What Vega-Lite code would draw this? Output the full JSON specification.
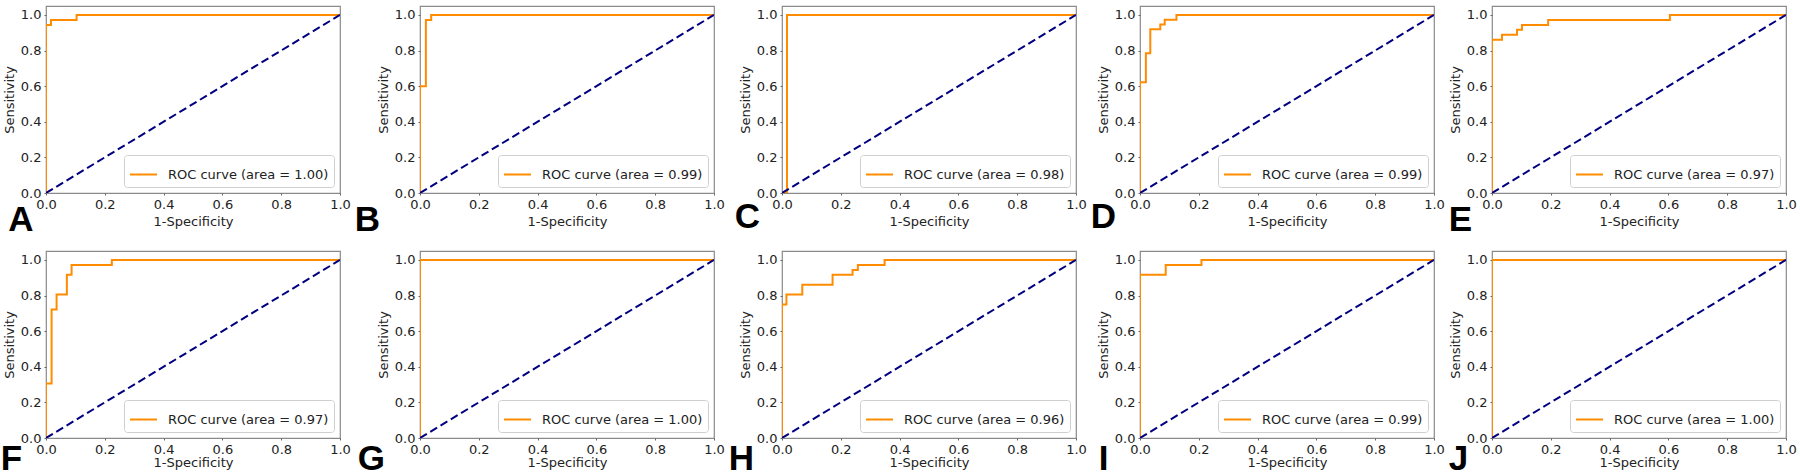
{
  "$schema": "https://vega.github.io/schema/vega-lite/v6.json",
  "background": "white",
  "padding": {"left": 0, "top": 5, "right": 0, "bottom": 0},
  "datasets": {
    "diag": [{"x": 0, "y": 0}, {"x": 1, "y": 1}],
    "roc": [
      {"p": "A", "i": 0, "x": 0, "y": 0}, {"p": "A", "i": 1, "x": 0, "y": 0.944}, {"p": "A", "i": 2, "x": 0.017, "y": 0.944}, {"p": "A", "i": 3, "x": 0.017, "y": 0.972}, {"p": "A", "i": 4, "x": 0.104, "y": 0.972}, {"p": "A", "i": 5, "x": 0.104, "y": 1}, {"p": "A", "i": 6, "x": 1, "y": 1},
      {"p": "B", "i": 0, "x": 0, "y": 0}, {"p": "B", "i": 1, "x": 0, "y": 0.6}, {"p": "B", "i": 2, "x": 0.02, "y": 0.6}, {"p": "B", "i": 3, "x": 0.02, "y": 0.972}, {"p": "B", "i": 4, "x": 0.038, "y": 0.972}, {"p": "B", "i": 5, "x": 0.038, "y": 1}, {"p": "B", "i": 6, "x": 1, "y": 1},
      {"p": "C", "i": 0, "x": 0, "y": 0}, {"p": "C", "i": 1, "x": 0.017, "y": 0}, {"p": "C", "i": 2, "x": 0.017, "y": 1}, {"p": "C", "i": 3, "x": 1, "y": 1},
      {"p": "D", "i": 0, "x": 0, "y": 0}, {"p": "D", "i": 1, "x": 0, "y": 0.622}, {"p": "D", "i": 2, "x": 0.02, "y": 0.622}, {"p": "D", "i": 3, "x": 0.02, "y": 0.784}, {"p": "D", "i": 4, "x": 0.035, "y": 0.784}, {"p": "D", "i": 5, "x": 0.035, "y": 0.919}, {"p": "D", "i": 6, "x": 0.069, "y": 0.919}, {"p": "D", "i": 7, "x": 0.069, "y": 0.946}, {"p": "D", "i": 8, "x": 0.084, "y": 0.946}, {"p": "D", "i": 9, "x": 0.084, "y": 0.973}, {"p": "D", "i": 10, "x": 0.124, "y": 0.973}, {"p": "D", "i": 11, "x": 0.124, "y": 1}, {"p": "D", "i": 12, "x": 1, "y": 1},
      {"p": "E", "i": 0, "x": 0, "y": 0}, {"p": "E", "i": 1, "x": 0, "y": 0.861}, {"p": "E", "i": 2, "x": 0.034, "y": 0.861}, {"p": "E", "i": 3, "x": 0.034, "y": 0.889}, {"p": "E", "i": 4, "x": 0.085, "y": 0.889}, {"p": "E", "i": 5, "x": 0.085, "y": 0.917}, {"p": "E", "i": 6, "x": 0.102, "y": 0.917}, {"p": "E", "i": 7, "x": 0.102, "y": 0.944}, {"p": "E", "i": 8, "x": 0.191, "y": 0.944}, {"p": "E", "i": 9, "x": 0.191, "y": 0.972}, {"p": "E", "i": 10, "x": 0.605, "y": 0.972}, {"p": "E", "i": 11, "x": 0.605, "y": 1}, {"p": "E", "i": 12, "x": 1, "y": 1},
      {"p": "F", "i": 0, "x": 0, "y": 0}, {"p": "F", "i": 1, "x": 0, "y": 0.306}, {"p": "F", "i": 2, "x": 0.019, "y": 0.306}, {"p": "F", "i": 3, "x": 0.019, "y": 0.722}, {"p": "F", "i": 4, "x": 0.036, "y": 0.722}, {"p": "F", "i": 5, "x": 0.036, "y": 0.806}, {"p": "F", "i": 6, "x": 0.071, "y": 0.806}, {"p": "F", "i": 7, "x": 0.071, "y": 0.917}, {"p": "F", "i": 8, "x": 0.087, "y": 0.917}, {"p": "F", "i": 9, "x": 0.087, "y": 0.972}, {"p": "F", "i": 10, "x": 0.224, "y": 0.972}, {"p": "F", "i": 11, "x": 0.224, "y": 1}, {"p": "F", "i": 12, "x": 1, "y": 1},
      {"p": "G", "i": 0, "x": 0, "y": 0}, {"p": "G", "i": 1, "x": 0, "y": 1}, {"p": "G", "i": 2, "x": 1, "y": 1},
      {"p": "H", "i": 0, "x": 0, "y": 0}, {"p": "H", "i": 1, "x": 0, "y": 0.75}, {"p": "H", "i": 2, "x": 0.015, "y": 0.75}, {"p": "H", "i": 3, "x": 0.015, "y": 0.806}, {"p": "H", "i": 4, "x": 0.069, "y": 0.806}, {"p": "H", "i": 5, "x": 0.069, "y": 0.861}, {"p": "H", "i": 6, "x": 0.172, "y": 0.861}, {"p": "H", "i": 7, "x": 0.172, "y": 0.917}, {"p": "H", "i": 8, "x": 0.24, "y": 0.917}, {"p": "H", "i": 9, "x": 0.24, "y": 0.944}, {"p": "H", "i": 10, "x": 0.258, "y": 0.944}, {"p": "H", "i": 11, "x": 0.258, "y": 0.972}, {"p": "H", "i": 12, "x": 0.349, "y": 0.972}, {"p": "H", "i": 13, "x": 0.349, "y": 1}, {"p": "H", "i": 14, "x": 1, "y": 1},
      {"p": "I", "i": 0, "x": 0, "y": 0}, {"p": "I", "i": 1, "x": 0, "y": 0.917}, {"p": "I", "i": 2, "x": 0.0875, "y": 0.917}, {"p": "I", "i": 3, "x": 0.0875, "y": 0.972}, {"p": "I", "i": 4, "x": 0.209, "y": 0.972}, {"p": "I", "i": 5, "x": 0.209, "y": 1}, {"p": "I", "i": 6, "x": 1, "y": 1},
      {"p": "J", "i": 0, "x": 0, "y": 0}, {"p": "J", "i": 1, "x": 0, "y": 1}, {"p": "J", "i": 2, "x": 1, "y": 1}
    ]
  },
  "columns": 5,
  "align": "each",
  "bounds": "full",
  "spacing": {"row": 11, "column": 3},
  "resolve": {"scale": {"color": "independent"}, "legend": {"color": "independent"}},
  "concat": [
    {"title": {"text": "A", "offset": -24.65, "dx": 5}, "width": 294, "height": 187, "encoding": {"x": {"field": "x", "type": "quantitative", "title": "1-Specificity", "scale": {"domain": [0, 1], "nice": false}, "axis": {"values": [0, 0.2, 0.4, 0.6, 0.8, 1], "format": ".1f"}}, "y": {"field": "y", "type": "quantitative", "title": "Sensitivity", "scale": {"domain": [0, 1.05], "nice": false}, "axis": {"values": [0, 0.2, 0.4, 0.6, 0.8, 1], "format": ".1f"}}},
     "layer": [
      {"data": {"name": "roc"}, "transform": [{"filter": "datum.p === 'A'"}], "mark": {"type": "line", "strokeWidth": 2, "clip": true}, "encoding": {"order": {"field": "i", "type": "quantitative"}, "color": {"datum": "ROC curve (area = 1.00)", "type": "nominal", "scale": {"range": ["#ff8c00"]}, "legend": {"title": null}}}},
      {"data": {"name": "diag"}, "mark": {"type": "line", "color": "#000080", "strokeWidth": 2, "strokeDash": [8, 4], "clip": true}, "encoding": {}}
     ]},
    {"title": {"text": "B", "offset": -24.65, "dx": -22.6}, "width": 294, "height": 187, "encoding": {"x": {"field": "x", "type": "quantitative", "title": "1-Specificity", "scale": {"domain": [0, 1], "nice": false}, "axis": {"values": [0, 0.2, 0.4, 0.6, 0.8, 1], "format": ".1f"}}, "y": {"field": "y", "type": "quantitative", "title": "Sensitivity", "scale": {"domain": [0, 1.05], "nice": false}, "axis": {"values": [0, 0.2, 0.4, 0.6, 0.8, 1], "format": ".1f"}}},
     "layer": [
      {"data": {"name": "roc"}, "transform": [{"filter": "datum.p === 'B'"}], "mark": {"type": "line", "strokeWidth": 2, "clip": true}, "encoding": {"order": {"field": "i", "type": "quantitative"}, "color": {"datum": "ROC curve (area = 0.99)", "type": "nominal", "scale": {"range": ["#ff8c00"]}, "legend": {"title": null}}}},
      {"data": {"name": "diag"}, "mark": {"type": "line", "color": "#000080", "strokeWidth": 2, "strokeDash": [8, 4], "clip": true}, "encoding": {}}
     ]},
    {"title": {"text": "C", "offset": -27.65, "dx": -4.5}, "width": 294, "height": 187, "encoding": {"x": {"field": "x", "type": "quantitative", "title": "1-Specificity", "scale": {"domain": [0, 1], "nice": false}, "axis": {"values": [0, 0.2, 0.4, 0.6, 0.8, 1], "format": ".1f"}}, "y": {"field": "y", "type": "quantitative", "title": "Sensitivity", "scale": {"domain": [0, 1.05], "nice": false}, "axis": {"values": [0, 0.2, 0.4, 0.6, 0.8, 1], "format": ".1f"}}},
     "layer": [
      {"data": {"name": "roc"}, "transform": [{"filter": "datum.p === 'C'"}], "mark": {"type": "line", "strokeWidth": 2, "clip": true}, "encoding": {"order": {"field": "i", "type": "quantitative"}, "color": {"datum": "ROC curve (area = 0.98)", "type": "nominal", "scale": {"range": ["#ff8c00"]}, "legend": {"title": null}}}},
      {"data": {"name": "diag"}, "mark": {"type": "line", "color": "#000080", "strokeWidth": 2, "strokeDash": [8, 4], "clip": true}, "encoding": {}}
     ]},
    {"title": {"text": "D", "offset": -27.65, "dx": -6.6}, "width": 294, "height": 187, "encoding": {"x": {"field": "x", "type": "quantitative", "title": "1-Specificity", "scale": {"domain": [0, 1], "nice": false}, "axis": {"values": [0, 0.2, 0.4, 0.6, 0.8, 1], "format": ".1f"}}, "y": {"field": "y", "type": "quantitative", "title": "Sensitivity", "scale": {"domain": [0, 1.05], "nice": false}, "axis": {"values": [0, 0.2, 0.4, 0.6, 0.8, 1], "format": ".1f"}}},
     "layer": [
      {"data": {"name": "roc"}, "transform": [{"filter": "datum.p === 'D'"}], "mark": {"type": "line", "strokeWidth": 2, "clip": true}, "encoding": {"order": {"field": "i", "type": "quantitative"}, "color": {"datum": "ROC curve (area = 0.99)", "type": "nominal", "scale": {"range": ["#ff8c00"]}, "legend": {"title": null}}}},
      {"data": {"name": "diag"}, "mark": {"type": "line", "color": "#000080", "strokeWidth": 2, "strokeDash": [8, 4], "clip": true}, "encoding": {}}
     ]},
    {"title": {"text": "E", "offset": -24.65, "dx": -0.6}, "width": 294, "height": 187, "encoding": {"x": {"field": "x", "type": "quantitative", "title": "1-Specificity", "scale": {"domain": [0, 1], "nice": false}, "axis": {"values": [0, 0.2, 0.4, 0.6, 0.8, 1], "format": ".1f"}}, "y": {"field": "y", "type": "quantitative", "title": "Sensitivity", "scale": {"domain": [0, 1.05], "nice": false}, "axis": {"values": [0, 0.2, 0.4, 0.6, 0.8, 1], "format": ".1f"}}},
     "layer": [
      {"data": {"name": "roc"}, "transform": [{"filter": "datum.p === 'E'"}], "mark": {"type": "line", "strokeWidth": 2, "clip": true}, "encoding": {"order": {"field": "i", "type": "quantitative"}, "color": {"datum": "ROC curve (area = 0.97)", "type": "nominal", "scale": {"range": ["#ff8c00"]}, "legend": {"title": null}}}},
      {"data": {"name": "diag"}, "mark": {"type": "line", "color": "#000080", "strokeWidth": 2, "strokeDash": [8, 4], "clip": true}, "encoding": {}}
     ]},
    {"title": {"text": "F", "offset": -27.05, "dx": -2.6}, "width": 294, "height": 187, "encoding": {"x": {"field": "x", "type": "quantitative", "title": "1-Specificity", "scale": {"domain": [0, 1], "nice": false}, "axis": {"values": [0, 0.2, 0.4, 0.6, 0.8, 1], "format": ".1f", "titlePadding": 0}}, "y": {"field": "y", "type": "quantitative", "title": "Sensitivity", "scale": {"domain": [0, 1.05], "nice": false}, "axis": {"values": [0, 0.2, 0.4, 0.6, 0.8, 1], "format": ".1f"}}},
     "layer": [
      {"data": {"name": "roc"}, "transform": [{"filter": "datum.p === 'F'"}], "mark": {"type": "line", "strokeWidth": 2, "clip": true}, "encoding": {"order": {"field": "i", "type": "quantitative"}, "color": {"datum": "ROC curve (area = 0.97)", "type": "nominal", "scale": {"range": ["#ff8c00"]}, "legend": {"title": null}}}},
      {"data": {"name": "diag"}, "mark": {"type": "line", "color": "#000080", "strokeWidth": 2, "strokeDash": [8, 4], "clip": true}, "encoding": {}}
     ]},
    {"title": {"text": "G", "offset": -27.05, "dx": -19.5}, "width": 294, "height": 187, "encoding": {"x": {"field": "x", "type": "quantitative", "title": "1-Specificity", "scale": {"domain": [0, 1], "nice": false}, "axis": {"values": [0, 0.2, 0.4, 0.6, 0.8, 1], "format": ".1f", "titlePadding": 0}}, "y": {"field": "y", "type": "quantitative", "title": "Sensitivity", "scale": {"domain": [0, 1.05], "nice": false}, "axis": {"values": [0, 0.2, 0.4, 0.6, 0.8, 1], "format": ".1f"}}},
     "layer": [
      {"data": {"name": "roc"}, "transform": [{"filter": "datum.p === 'G'"}], "mark": {"type": "line", "strokeWidth": 2, "clip": true}, "encoding": {"order": {"field": "i", "type": "quantitative"}, "color": {"datum": "ROC curve (area = 1.00)", "type": "nominal", "scale": {"range": ["#ff8c00"]}, "legend": {"title": null}}}},
      {"data": {"name": "diag"}, "mark": {"type": "line", "color": "#000080", "strokeWidth": 2, "strokeDash": [8, 4], "clip": true}, "encoding": {}}
     ]},
    {"title": {"text": "H", "offset": -27.05, "dx": -10.6}, "width": 294, "height": 187, "encoding": {"x": {"field": "x", "type": "quantitative", "title": "1-Specificity", "scale": {"domain": [0, 1], "nice": false}, "axis": {"values": [0, 0.2, 0.4, 0.6, 0.8, 1], "format": ".1f", "titlePadding": 0}}, "y": {"field": "y", "type": "quantitative", "title": "Sensitivity", "scale": {"domain": [0, 1.05], "nice": false}, "axis": {"values": [0, 0.2, 0.4, 0.6, 0.8, 1], "format": ".1f"}}},
     "layer": [
      {"data": {"name": "roc"}, "transform": [{"filter": "datum.p === 'H'"}], "mark": {"type": "line", "strokeWidth": 2, "clip": true}, "encoding": {"order": {"field": "i", "type": "quantitative"}, "color": {"datum": "ROC curve (area = 0.96)", "type": "nominal", "scale": {"range": ["#ff8c00"]}, "legend": {"title": null}}}},
      {"data": {"name": "diag"}, "mark": {"type": "line", "color": "#000080", "strokeWidth": 2, "strokeDash": [8, 4], "clip": true}, "encoding": {}}
     ]},
    {"title": {"text": "I", "offset": -27.05, "dx": 1.4}, "width": 294, "height": 187, "encoding": {"x": {"field": "x", "type": "quantitative", "title": "1-Specificity", "scale": {"domain": [0, 1], "nice": false}, "axis": {"values": [0, 0.2, 0.4, 0.6, 0.8, 1], "format": ".1f", "titlePadding": 0}}, "y": {"field": "y", "type": "quantitative", "title": "Sensitivity", "scale": {"domain": [0, 1.05], "nice": false}, "axis": {"values": [0, 0.2, 0.4, 0.6, 0.8, 1], "format": ".1f"}}},
     "layer": [
      {"data": {"name": "roc"}, "transform": [{"filter": "datum.p === 'I'"}], "mark": {"type": "line", "strokeWidth": 2, "clip": true}, "encoding": {"order": {"field": "i", "type": "quantitative"}, "color": {"datum": "ROC curve (area = 0.99)", "type": "nominal", "scale": {"range": ["#ff8c00"]}, "legend": {"title": null}}}},
      {"data": {"name": "diag"}, "mark": {"type": "line", "color": "#000080", "strokeWidth": 2, "strokeDash": [8, 4], "clip": true}, "encoding": {}}
     ]},
    {"title": {"text": "J", "offset": -27.05, "dx": -0.7}, "width": 294, "height": 187, "encoding": {"x": {"field": "x", "type": "quantitative", "title": "1-Specificity", "scale": {"domain": [0, 1], "nice": false}, "axis": {"values": [0, 0.2, 0.4, 0.6, 0.8, 1], "format": ".1f", "titlePadding": 0}}, "y": {"field": "y", "type": "quantitative", "title": "Sensitivity", "scale": {"domain": [0, 1.05], "nice": false}, "axis": {"values": [0, 0.2, 0.4, 0.6, 0.8, 1], "format": ".1f"}}},
     "layer": [
      {"data": {"name": "roc"}, "transform": [{"filter": "datum.p === 'J'"}], "mark": {"type": "line", "strokeWidth": 2, "clip": true}, "encoding": {"order": {"field": "i", "type": "quantitative"}, "color": {"datum": "ROC curve (area = 1.00)", "type": "nominal", "scale": {"range": ["#ff8c00"]}, "legend": {"title": null}}}},
      {"data": {"name": "diag"}, "mark": {"type": "line", "color": "#000080", "strokeWidth": 2, "strokeDash": [8, 4], "clip": true}, "encoding": {}}
     ]}
  ],
  "config": {
    "view": {"stroke": "#8a8a8a", "strokeWidth": 1.2},
    "title": {"orient": "bottom", "anchor": "start", "frame": "bounds", "font": "Liberation Sans", "fontSize": 35, "fontWeight": "bold", "color": "black", "baseline": "top"},
    "axis": {"grid": false, "domain": false, "ticks": true, "tickColor": "#666", "tickSize": 2, "labelPadding": 3, "labelFont": "DejaVu Sans", "labelFontSize": 13, "labelColor": "#222", "titleFont": "DejaVu Sans", "titleFontSize": 13, "titleFontWeight": "normal", "titleColor": "#222", "labelFlush": false, "labelOverlap": false},
    "axisX": {"titlePadding": 4},
    "axisY": {"titlePadding": 4},
    "legend": {"orient": "bottom-right", "offset": 6, "padding": 5, "strokeColor": "#cfcfcf", "fillColor": "white", "cornerRadius": 3, "labelFont": "DejaVu Sans", "labelFontSize": 13, "labelColor": "#222", "symbolType": "stroke", "symbolSize": 729, "symbolStrokeWidth": 2, "labelOffset": 10, "labelLimit": 400}
  }
}
